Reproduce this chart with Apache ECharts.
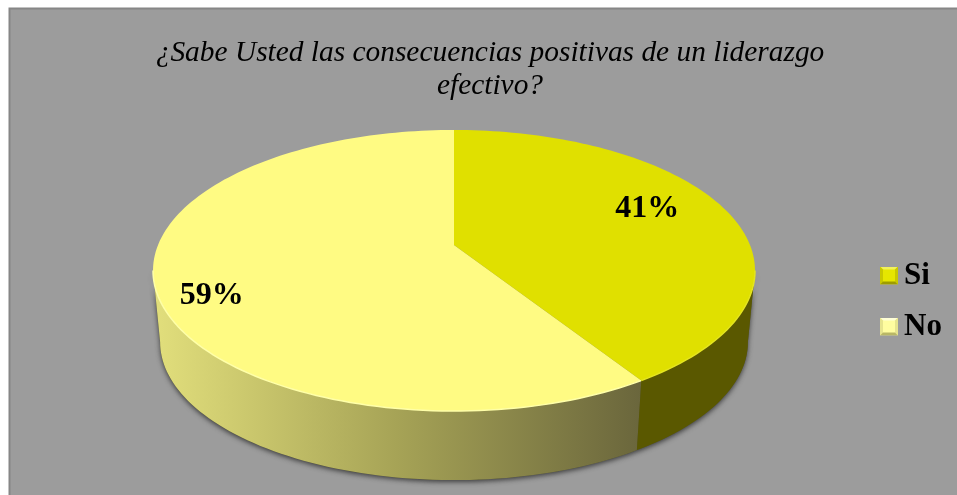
<!DOCTYPE html>
<html>
<head>
<meta charset="utf-8">
<title>Liderazgo efectivo</title>
<style>
  html, body { margin: 0; padding: 0; background: #ffffff; }
  #chart { width: 957px; height: 495px; }
</style>
<script src="https://cdn.jsdelivr.net/npm/echarts@6/dist/echarts.min.js"></script>
</head>
<body>
<div id="chart"></div>
<script>
const titleText = '¿Sabe Usted las consecuencias positivas de un liderazgo\nefectivo?';
const categories = ['Si', 'No'];
const values = [41, 59];
const topColors = ['#E0E000', '#FFFB83'];

// Bevelled square used as the legend key.
function bevelIcon(mid, light, dark, side) {
  const svg = '<svg xmlns="http://www.w3.org/2000/svg" width="18" height="18">' +
    '<rect width="18" height="18" fill="' + mid + '"/>' +
    '<polygon points="0,0 18,0 15,3 3,3" fill="' + light + '"/>' +
    '<polygon points="0,0 3,3 3,15 0,18" fill="' + side + '"/>' +
    '<polygon points="18,0 18,18 15,15 15,3" fill="' + side + '"/>' +
    '<polygon points="0,18 3,15 15,15 18,18" fill="' + dark + '"/>' +
    '</svg>';
  return 'image://data:image/svg+xml;charset=utf-8,' + encodeURIComponent(svg);
}
const legendIcons = [
  bevelIcon('#E6E600', '#F2F25A', '#9E9C00', '#C9C800'),
  bevelIcon('#FFFDA0', '#FFFFD8', '#B9B766', '#E6E48E')
];

// Disc projection: a unit circle seen from above with perspective.
const disc = { cx: 454, cy: 245, a: 296, b: 135.9, k: 0.1815 };
const base = { cx: 454, cy: 317, a: 289, b: 133.5, k: 0.1815 };

function project(p, angleDeg, r) {
  const t = angleDeg * Math.PI / 180;
  const u = r * Math.sin(t);
  const v = -r * Math.cos(t);
  const w = 1 - p.k * v;
  return [p.cx + p.a * u / w, p.cy + p.b * v / w];
}
function arc(p, from, to) {
  const pts = [];
  const steps = Math.max(2, Math.ceil(Math.abs(to - from) / 1.5));
  for (let i = 0; i <= steps; i++) {
    pts.push(project(p, from + (to - from) * i / steps, 1));
  }
  return pts;
}

const total = values.reduce((s, x) => s + x, 0);
const startAngles = values.map((_, i) =>
  values.slice(0, i).reduce((s, x) => s + x, 0) / total * 360);
const endAngles = startAngles.map((s, i) => s + values[i] / total * 360);

// The wall is visible between the two silhouette tangents of the disc.
const tangent = Math.acos(-disc.k) * 180 / Math.PI;
const wallFills = [
  '#5A5800',
  new echarts.graphic.LinearGradient(1, 0, 0, 0, [
    { offset: 0, color: '#6A663C' },
    { offset: 0.5, color: '#A6A356' },
    { offset: 1, color: '#E2DF7C' }
  ])
];
const labelPlacement = [
  { r: 0.70, dx: 1, dy: -11 },
  { r: 0.82, dx: 1, dy: 18 }
];

function shadowItem() {
  return {
    type: 'polygon',
    shape: { points: arc(disc, tangent, 360 - tangent).concat(arc(base, 360 - tangent, tangent)) },
    style: {
      fill: '#555533',
      shadowBlur: 5,
      shadowColor: 'rgba(40,40,40,0.8)',
      shadowOffsetX: 0,
      shadowOffsetY: 2
    }
  };
}
function sliceItem(index) {
  return function () {
    const s = startAngles[index];
    const e = endAngles[index];
    const wallFrom = Math.max(s, tangent);
    const wallTo = Math.min(e, 360 - tangent);
    const children = [];
    if (wallTo > wallFrom) {
      children.push({
        type: 'polygon',
        z2: 1,
        shape: { points: arc(disc, wallFrom, wallTo).concat(arc(base, wallTo, wallFrom)) },
        style: { fill: wallFills[index] }
      });
    }
    children.push({
      type: 'polygon',
      z2: 2,
      shape: { points: [project(disc, s, 0)].concat(arc(disc, s, e)) },
      style: { fill: topColors[index] }
    });
    children.push({
      type: 'polyline',
      z2: 3,
      shape: { points: arc(disc, wallFrom, wallTo) },
      style: {
        fill: null,
        stroke: index === 0 ? '#E4E420' : '#FFFFA8',
        lineWidth: 1.5
      }
    });
    return { type: 'group', children: children };
  };
}
function labelItem(index) {
  return function () {
    const place = labelPlacement[index];
    const mid = (startAngles[index] + endAngles[index]) / 2;
    const pos = project(disc, mid, place.r);
    return {
      type: 'text',
      z2: 5,
      x: pos[0] + place.dx,
      y: pos[1] + place.dy,
      style: {
        text: values[index] + '%',
        fill: '#000000',
        font: 'bold 32px "Liberation Serif"',
        align: 'center',
        verticalAlign: 'middle'
      }
    };
  };
}

const shadowSeries = {
  type: 'custom',
  name: 'sombra',
  coordinateSystem: 'none',
  silent: true,
  animation: false,
  z: 1,
  data: [total],
  renderItem: shadowItem
};
const sliceSeries = categories.map((name, i) => ({
  type: 'custom',
  name: name,
  coordinateSystem: 'none',
  silent: true,
  animation: false,
  z: i === 0 ? 3 : 2,
  data: [values[i]],
  itemStyle: { color: topColors[i] },
  renderItem: sliceItem(i)
}));
const labelSeries = categories.map((name, i) => ({
  type: 'custom',
  name: name + ' %',
  coordinateSystem: 'none',
  silent: true,
  animation: false,
  z: 6,
  data: [values[i]],
  renderItem: labelItem(i)
}));

const chart = echarts.init(document.getElementById('chart'), null, { renderer: 'canvas' });
chart.setOption({
  animation: false,
  backgroundColor: '#ffffff',
  graphic: [{
    type: 'rect',
    z: -10,
    silent: true,
    shape: { x: 9.5, y: 8.5, width: 960, height: 500 },
    style: { fill: '#9C9C9C', stroke: '#868686', lineWidth: 2 }
  }],
  title: {
    text: titleText,
    left: 485,
    top: 32,
    textAlign: 'center',
    textStyle: {
      fontFamily: '"Liberation Serif"',
      fontStyle: 'italic',
      fontWeight: 'normal',
      fontSize: 29.4,
      lineHeight: 33,
      color: '#000000'
    }
  },
  legend: {
    orient: 'vertical',
    left: 880,
    top: 257,
    itemGap: 14,
    itemWidth: 18,
    itemHeight: 18,
    selectedMode: false,
    padding: 0,
    textStyle: {
      fontFamily: '"Liberation Serif"',
      fontWeight: 'bold',
      fontSize: 31,
      lineHeight: 34,
      color: '#000000',
      padding: [3, 0, 0, 1]
    },
    data: categories.map((name, i) => ({ name: name, icon: legendIcons[i] }))
  },
  series: [shadowSeries].concat(sliceSeries, labelSeries)
});
</script>
</body>
</html>
